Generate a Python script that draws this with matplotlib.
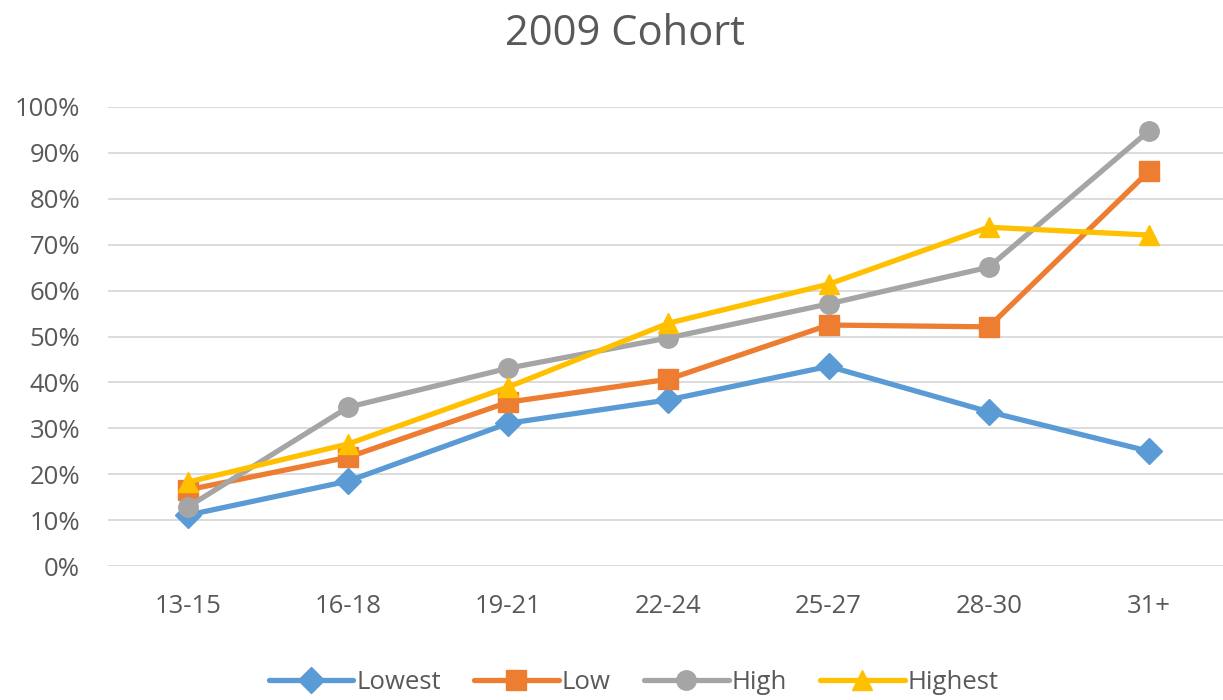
import matplotlib
matplotlib.use("Agg")
import matplotlib.pyplot as plt
from matplotlib.ticker import PercentFormatter

categories = ["13-15", "16-18", "19-21", "22-24", "25-27", "28-30", "31+"]
lowest = [0.111, 0.185, 0.311, 0.362, 0.435, 0.336, 0.250]
low = [0.166, 0.237, 0.357, 0.407, 0.525, 0.521, 0.860]
high = [0.129, 0.346, 0.431, 0.497, 0.571, 0.651, 0.948]
highest = [0.183, 0.266, 0.390, 0.529, 0.614, 0.738, 0.721]
series_names = ["Lowest", "Low", "High", "Highest"]
yticks = [0, 0.1, 0.2, 0.3, 0.4, 0.5, 0.6, 0.7, 0.8, 0.9, 1.0]

colors = ["#5B9BD5", "#ED7D31", "#A5A5A5", "#FFC000"]
markers = ["D", "s", "o", "^"]
msizes = [13, 14, 14, 15]
text_color = "#595959"

plt.rcParams["font.family"] = ["Open Sans", "DejaVu Sans"]

fig = plt.figure(figsize=(12.23, 7.0), dpi=100)
ax = fig.add_axes([108 / 1223, (700 - 566) / 700, (1229 - 108) / 1223, (566 - 107) / 700])

x = list(range(len(categories)))
for vals, name, c, m, ms in zip([lowest, low, high, highest], series_names, colors, markers, msizes):
    ax.plot(x, vals, color=c, lw=3.8, marker=m, markersize=ms, label=name,
            solid_joinstyle="round", solid_capstyle="round", clip_on=False, zorder=3)

ax.set_xlim(-0.5, 6.5)
ax.set_ylim(0, 1.0)
ax.set_yticks(yticks)
ax.yaxis.set_major_formatter(PercentFormatter(1.0, decimals=0))
ax.set_xticks(x)
ax.set_xticklabels(categories)
ax.grid(axis="y", color="#D9D9D9", lw=1.3)
ax.set_axisbelow(True)
for s in ax.spines.values():
    s.set_visible(False)
ax.tick_params(axis="both", length=0, colors=text_color, labelsize=18.5)
ax.tick_params(axis="y", pad=20)
ax.tick_params(axis="x", pad=20)

fig.text(0.511, 0.951, "2009 Cohort", ha="center", va="center", fontsize=30, color=text_color)

leg = fig.legend(loc="center", bbox_to_anchor=(0.518, 0.025), ncol=4, frameon=False,
                 fontsize=18.5, handlelength=3.3, handletextpad=0.1, columnspacing=1.3,
                 labelcolor=text_color)

fig.savefig("out.png", dpi=100)
